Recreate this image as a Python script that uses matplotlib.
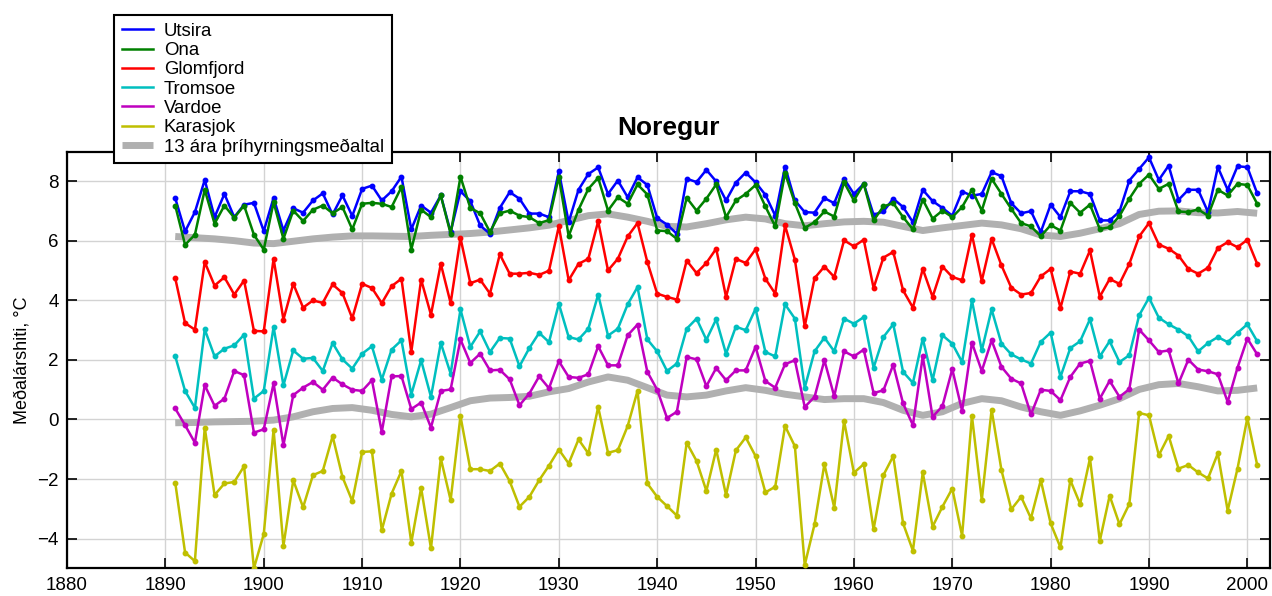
import numpy as np
import matplotlib
matplotlib.use("Agg")
import matplotlib.pyplot as plt

plt.rcParams['font.family'] = ['Liberation Sans', 'DejaVu Sans']

years = list(range(1891, 2002))

utsira = [7.44, 6.32, 6.97, 8.05, 6.80, 7.58, 6.80, 7.22, 7.28, 6.33,
          7.45, 6.35, 7.10, 6.95, 7.36, 7.60, 6.89, 7.53, 6.84, 7.75,
          7.86, 7.36, 7.67, 8.16, 6.39, 7.19, 6.95, 7.53, 6.30, 7.67,
          7.34, 6.52, 6.24, 7.11, 7.64, 7.42, 6.92, 6.92, 6.80, 8.34,
          6.63, 7.72, 8.25, 8.47, 7.58, 8.03, 7.47, 8.14, 7.88, 6.77,
          6.55, 6.24, 8.09, 7.98, 8.39, 8.00, 7.36, 7.96, 8.30, 7.97,
          7.55, 6.85, 8.50, 7.36, 6.97, 6.95, 7.44, 7.27, 8.09, 7.58,
          7.92, 6.88, 6.99, 7.42, 7.14, 6.63, 7.72, 7.34, 7.11, 6.85,
          7.66, 7.52, 7.58, 8.31, 8.18, 7.27, 6.93, 7.00, 6.30, 7.22,
          6.80, 7.67, 7.67, 7.58, 6.69, 6.69, 6.99, 8.03, 8.42, 8.81,
          8.05, 8.53, 7.38, 7.72, 7.72, 6.97, 8.48, 7.72, 8.51, 8.48,
          7.60]

ona = [7.19, 5.87, 6.21, 7.72, 6.58, 7.19, 6.78, 7.19, 6.21, 5.71,
       7.30, 6.07, 7.02, 6.67, 7.05, 7.19, 6.93, 7.14, 6.39, 7.25,
       7.28, 7.25, 7.14, 7.81, 5.71, 7.05, 6.80, 7.53, 6.24, 8.16,
       7.11, 6.93, 6.30, 6.93, 7.02, 6.85, 6.80, 6.60, 6.70, 8.16,
       6.16, 7.05, 7.75, 8.12, 7.02, 7.47, 7.25, 7.90, 7.56, 6.35,
       6.33, 6.07, 7.45, 7.02, 7.42, 7.90, 6.80, 7.36, 7.58, 7.88,
       7.16, 6.49, 8.28, 7.27, 6.44, 6.63, 6.99, 6.82, 7.97, 7.36,
       7.92, 6.69, 7.16, 7.27, 6.80, 6.39, 7.39, 6.75, 7.02, 6.80,
       7.14, 7.72, 7.02, 8.09, 7.58, 7.08, 6.60, 6.49, 6.16, 6.53,
       6.35, 7.28, 6.95, 7.22, 6.40, 6.46, 6.84, 7.42, 7.92, 8.23,
       7.75, 7.92, 6.99, 6.97, 7.06, 6.85, 7.72, 7.53, 7.92, 7.88,
       7.25]

glomfjord = [4.75, 3.24, 3.02, 5.29, 4.50, 4.78, 4.20, 4.67, 2.98, 2.96,
             5.40, 3.36, 4.56, 3.76, 4.00, 3.92, 4.54, 4.25, 3.40, 4.56,
             4.42, 3.91, 4.48, 4.73, 2.27, 4.70, 3.52, 5.23, 3.91, 6.10,
             4.58, 4.70, 4.23, 5.55, 4.90, 4.90, 4.93, 4.86, 5.00, 6.49,
             4.68, 5.23, 5.40, 6.66, 5.01, 5.40, 6.15, 6.60, 5.29, 4.23,
             4.12, 4.03, 5.34, 4.92, 5.26, 5.74, 4.12, 5.40, 5.26, 5.72,
             4.73, 4.23, 6.52, 5.37, 3.13, 4.75, 5.14, 4.79, 6.02, 5.82,
             6.04, 4.42, 5.44, 5.63, 4.34, 3.76, 5.06, 4.12, 5.14, 4.79,
             4.68, 6.21, 4.66, 6.07, 5.18, 4.43, 4.20, 4.25, 4.81, 5.06,
             3.75, 4.97, 4.90, 5.68, 4.13, 4.72, 4.56, 5.23, 6.15, 6.60,
             5.88, 5.74, 5.51, 5.06, 4.90, 5.10, 5.76, 5.96, 5.79, 6.04,
             5.23]

tromsoe = [2.13, 0.96, 0.39, 3.03, 2.12, 2.38, 2.49, 2.85, 0.70, 0.96,
           3.11, 1.15, 2.32, 2.04, 2.07, 1.63, 2.57, 2.02, 1.71, 2.21,
           2.46, 1.34, 2.35, 2.66, 0.84, 1.99, 0.76, 2.57, 1.54, 3.70,
           2.44, 2.96, 2.27, 2.74, 2.72, 1.79, 2.40, 2.91, 2.60, 3.89,
           2.77, 2.69, 3.05, 4.20, 2.82, 3.05, 3.87, 4.45, 2.69, 2.29,
           1.63, 1.88, 3.05, 3.39, 2.68, 3.37, 2.21, 3.12, 3.00, 3.72,
           2.27, 2.12, 3.87, 3.39, 1.07, 2.29, 2.75, 2.29, 3.39, 3.22,
           3.44, 1.74, 2.77, 3.20, 1.60, 1.23, 2.72, 1.32, 2.83, 2.55,
           1.93, 4.00, 2.32, 3.70, 2.55, 2.19, 2.02, 1.88, 2.61, 2.92,
           1.43, 2.40, 2.63, 3.37, 2.12, 2.63, 1.93, 2.16, 3.50, 4.09,
           3.42, 3.20, 3.02, 2.80, 2.29, 2.57, 2.77, 2.60, 2.91, 3.20,
           2.63]

vardoe = [0.37, -0.19, -0.78, 1.15, 0.46, 0.70, 1.63, 1.49, -0.44, -0.33,
          1.21, -0.86, 0.82, 1.07, 1.26, 1.00, 1.41, 1.18, 1.00, 0.96,
          1.32, -0.42, 1.45, 1.46, 0.35, 0.57, -0.27, 0.96, 1.01, 2.69,
          1.90, 2.21, 1.65, 1.67, 1.35, 0.48, 0.87, 1.45, 1.05, 1.96,
          1.43, 1.40, 1.52, 2.46, 1.82, 1.82, 2.83, 3.19, 1.60, 1.00,
          0.05, 0.26, 2.10, 2.02, 1.12, 1.73, 1.32, 1.65, 1.65, 2.44,
          1.29, 1.07, 1.86, 1.99, 0.42, 0.76, 1.99, 0.78, 2.29, 2.12,
          2.35, 0.89, 0.98, 1.84, 0.54, -0.19, 2.12, 0.09, 0.45, 1.69,
          0.29, 2.58, 1.63, 2.66, 1.77, 1.37, 1.21, 0.17, 1.00, 0.96,
          0.65, 1.43, 1.88, 1.97, 0.70, 1.30, 0.76, 1.02, 3.02, 2.66,
          2.27, 2.32, 1.21, 2.01, 1.68, 1.62, 1.52, 0.59, 1.74, 2.72,
          2.19]

karasjok = [-2.12, -4.47, -4.76, -0.27, -2.54, -2.15, -2.10, -1.57, -5.00, -3.85,
            -0.34, -4.25, -2.04, -2.95, -1.87, -1.73, -0.56, -1.93, -2.74, -1.09,
            -1.07, -3.72, -2.49, -1.73, -4.14, -2.30, -4.33, -1.31, -2.71, 0.11,
            -1.67, -1.67, -1.73, -1.48, -2.07, -2.93, -2.60, -2.04, -1.55, -1.01,
            -1.48, -0.67, -1.14, 0.42, -1.12, -1.03, -0.22, 0.96, -2.15, -2.60,
            -2.91, -3.23, -0.78, -1.39, -2.40, -1.01, -2.54, -1.04, -0.60, -1.23,
            -2.45, -2.26, -0.22, -0.90, -4.89, -3.52, -1.50, -2.96, -0.05, -1.79,
            -1.50, -3.69, -1.87, -1.23, -3.49, -4.41, -1.78, -3.60, -2.93, -2.32,
            -3.91, 0.12, -2.71, 0.33, -1.70, -3.02, -2.60, -3.32, -2.04, -3.49,
            -4.30, -2.04, -2.84, -1.31, -4.08, -2.56, -3.52, -2.84, 0.22, 0.14,
            -1.20, -0.55, -1.65, -1.53, -1.78, -1.98, -1.14, -3.06, -1.65, 0.05,
            -1.53]

# 13 year triangular means, every other year
smooth_years = list(range(1891, 2002, 2))
smooth_upper = [6.15, 6.11, 6.07, 6.01, 5.93, 5.91, 5.99, 6.07, 6.13, 6.17,
                6.17, 6.16, 6.15, 6.19, 6.22, 6.25, 6.30, 6.37, 6.44, 6.53,
                6.69, 6.85, 6.91, 6.80, 6.66, 6.49, 6.47, 6.58, 6.71, 6.80,
                6.74, 6.58, 6.51, 6.58, 6.64, 6.66, 6.63, 6.49, 6.35, 6.44,
                6.52, 6.60, 6.54, 6.41, 6.20, 6.15, 6.26, 6.41, 6.58, 6.89,
                7.00, 7.01, 6.95, 6.94, 6.99, 6.93]
smooth_lower = [-0.11, -0.10, -0.08, -0.07, -0.06, -0.02, 0.09, 0.26, 0.37, 0.40,
                0.31, 0.17, 0.09, 0.18, 0.40, 0.63, 0.72, 0.74, 0.78, 0.93,
                1.04, 1.26, 1.43, 1.32, 1.07, 0.82, 0.76, 0.82, 0.96, 1.07,
                0.98, 0.85, 0.76, 0.67, 0.70, 0.70, 0.57, 0.31, 0.14, 0.26,
                0.54, 0.70, 0.63, 0.42, 0.26, 0.14, 0.29, 0.48, 0.70, 1.01,
                1.17, 1.21, 1.10, 0.96, 0.98, 1.06]

series = [
    ('Utsira', utsira, '#0000ff'),
    ('Ona', ona, '#008000'),
    ('Glomfjord', glomfjord, '#ff0000'),
    ('Tromsoe', tromsoe, '#00bfbf'),
    ('Vardoe', vardoe, '#bf00bf'),
    ('Karasjok', karasjok, '#bfbf00'),
]

fig = plt.figure(figsize=(12.72, 5.96), dpi=100)
ax = fig.add_axes([0.0527, 0.0465, 0.9457, 0.699])

for name, vals, col in series:
    ax.plot(years, vals, '-', color=col, lw=1.8, marker='o', markersize=3.2,
            label=name, zorder=3)

ax.plot(smooth_years, smooth_upper, color='#b0b0b0', lw=5, solid_capstyle='butt',
        solid_joinstyle='round', label='13 ára þríhyrningsmeðaltal', zorder=2)
ax.plot(smooth_years, smooth_lower, color='#b0b0b0', lw=5, solid_capstyle='butt',
        solid_joinstyle='round', zorder=2)

ax.set_xlim(1880, 2002.3)
ax.set_ylim(-5, 9)
ax.set_xticks(np.arange(1880, 2001, 10))
ax.set_yticks(np.arange(-4, 9, 2))
ax.grid(True, color='#d3d3d3', lw=1)
ax.set_axisbelow(True)
ax.tick_params(direction='in', length=7, width=1.2, top=True, right=True,
               labelsize=13.5, pad=6)
for sp in ax.spines.values():
    sp.set_linewidth(1.6)

ax.set_ylabel('Meðalárshiti, °C', fontsize=13, labelpad=5)
ax.set_title('Noregur', fontsize=19, fontweight='bold', pad=12)

leg = fig.legend(loc='upper left', bbox_to_anchor=(114 / 1272, 1 - 15 / 596),
                 bbox_transform=fig.transFigure, fontsize=13.4, frameon=True,
                 fancybox=False, edgecolor='black', framealpha=1,
                 handlelength=1.65, handletextpad=0.6, labelspacing=0.12,
                 borderpad=0.42, borderaxespad=0)
leg.get_frame().set_linewidth(1.5)
for h in leg.legend_handles:
    h.set_marker('')

fig.savefig('out.png', dpi=100)
